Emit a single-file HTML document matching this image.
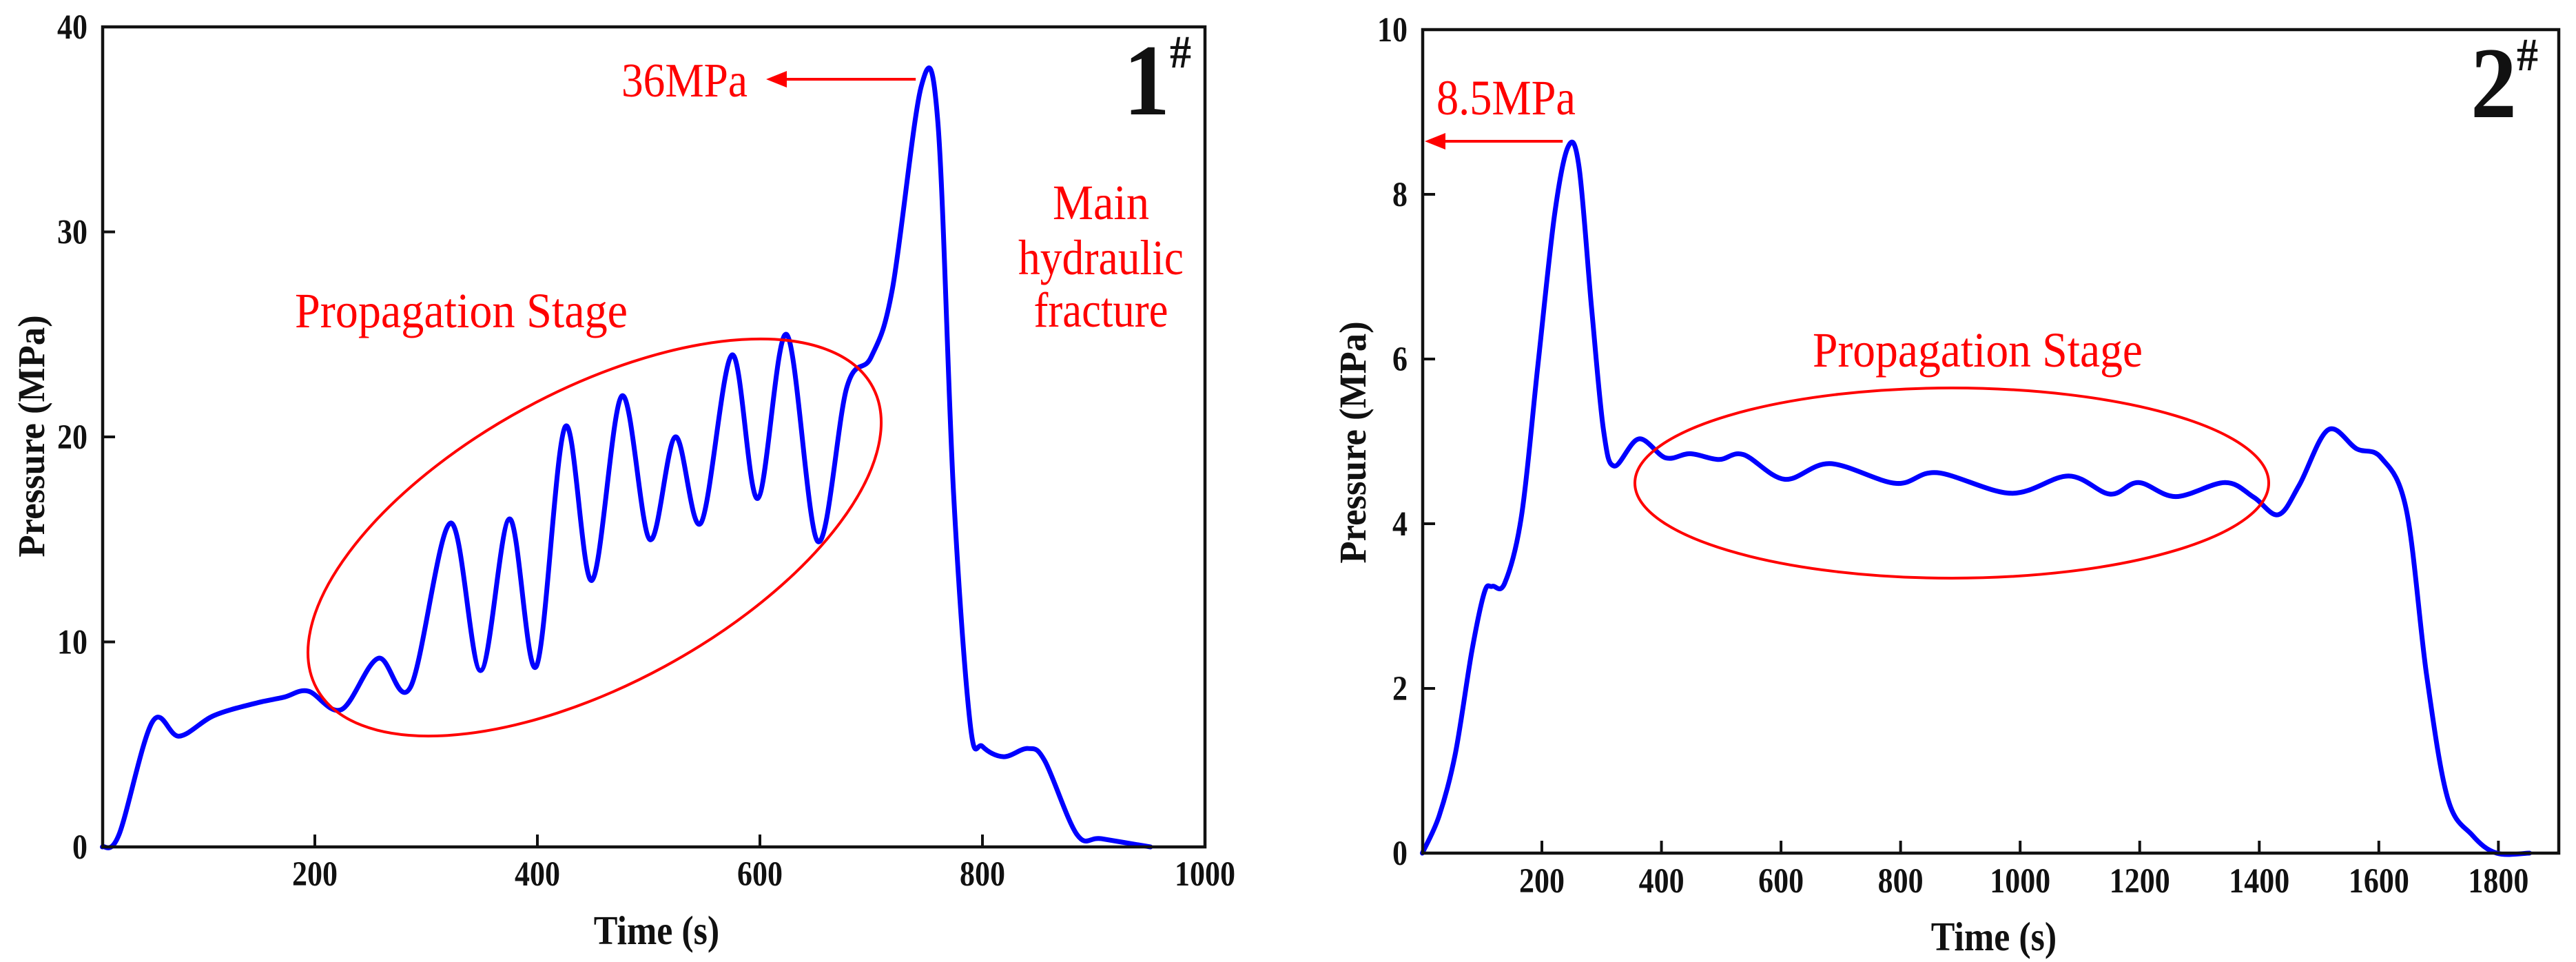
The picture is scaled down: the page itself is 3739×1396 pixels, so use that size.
<!DOCTYPE html>
<html><head><meta charset="utf-8"><style>
html,body{margin:0;padding:0;background:#fff;}
svg{display:block;}
text{font-family:"Liberation Serif",serif;}
</style></head>
<body>
<svg id="fig" width="3739" height="1396" viewBox="0 0 3739 1396" xmlns="http://www.w3.org/2000/svg"></svg>
<script>
// ---- Chart 1 data ----
const c1Times = [9,24,54,78,109,146,172,194,224,257,286,322,349,375,399,425,449,476,501,524,547,575,598,624,652,678,700,719,745,760,774,789,800,819,841,856,885,907,951];
const c1Pressure = [0,0.6,6.1,5.4,6.4,7.0,7.3,7.6,6.7,9.2,7.8,15.8,8.6,16.0,8.8,20.5,13.0,22.0,15.0,20.0,15.8,24.0,17.0,25.0,14.9,22.4,23.9,27.2,37.1,35.3,17.3,6.0,4.9,4.4,4.8,4.2,0.6,0.4,0];
const c1XTicks = [200,400,600,800,1000];
const c1YTicks = [0,10,20,30,40];
// ---- Chart 2 data ----
const c2Times = [0,28,55,83,104,117,138,166,193,221,244,262,283,303,321,362,407,448,496,537,606,682,792,861,985,1081,1150,1198,1260,1343,1391,1432,1467,1515,1563,1604,1646,1680,1715,1756,1797,1852];
const c2Pressure = [0,0.45,1.2,2.46,3.17,3.24,3.28,4.1,5.9,7.74,8.58,8.34,6.63,5.14,4.7,5.03,4.8,4.85,4.78,4.84,4.54,4.73,4.49,4.62,4.37,4.58,4.36,4.5,4.33,4.5,4.32,4.11,4.47,5.14,4.91,4.8,4.17,2.16,0.67,0.22,0,0];
const c2XTicks = [200,400,600,800,1000,1200,1400,1600,1800];
const c2YTicks = [0,2,4,6,8,10];

const NS = "http://www.w3.org/2000/svg";
const svg = document.getElementById('fig');
function mk(tag, attrs, parent){
  const e = document.createElementNS(NS, tag);
  for (const k in attrs) e.setAttribute(k, attrs[k]);
  (parent||svg).appendChild(e);
  return e;
}
function catmull(pts){
  let d = `M${pts[0][0]},${pts[0][1]}`;
  for (let i=0;i<pts.length-1;i++){
    const p0=pts[Math.max(0,i-1)], p1=pts[i], p2=pts[i+1], p3=pts[Math.min(pts.length-1,i+2)];
    const c1x=p1[0]+(p2[0]-p0[0])/6, c1y=p1[1]+(p2[1]-p0[1])/6;
    const c2x=p2[0]-(p3[0]-p1[0])/6, c2y=p2[1]-(p3[1]-p1[1])/6;
    d += ` C${c1x.toFixed(1)},${c1y.toFixed(1)} ${c2x.toFixed(1)},${c2y.toFixed(1)} ${p2[0].toFixed(1)},${p2[1].toFixed(1)}`;
  }
  return d;
}
function chart(cfg){
  const g = mk('g', {});
  
  
  const xs = v => cfg.L + (v - cfg.xmin) / (cfg.xmax - cfg.xmin) * (cfg.R - cfg.L);
  const ys = v => cfg.B - (v - cfg.ymin) / (cfg.ymax - cfg.ymin) * (cfg.B - cfg.T);
  cfg.xTicks.forEach(t => {
    const x = xs(t);
    if (x < cfg.R - 2) {
      const tk = mk('line', {x1:x, y1:cfg.B, x2:x, y2:cfg.B-18, stroke:'#111', 'stroke-width':4}, g);
      
      
    }
    const lb = mk('text', {x:0, y:0, 'font-size':44, 'font-weight':'bold', 'text-anchor':'middle', fill:'#111', transform:`translate(${x},${cfg.xLabelY}) scale(1,1.15)`}, g);
    lb.textContent = t;
    
    
  });
  cfg.yTicks.forEach(t => {
    const y = ys(t);
    if (y > cfg.T + 2 && y < cfg.B - 2) {
      const tk = mk('line', {x1:cfg.L, y1:y, x2:cfg.L+18, y2:y, stroke:'#111', 'stroke-width':4}, g);
      
      
    }
    const lb = mk('text', {x:0, y:0, 'font-size':44, 'font-weight':'bold', 'text-anchor':'end', fill:'#111', transform:`translate(${cfg.yLabelX},${y+17}) scale(1,1.15)`}, g);
    lb.textContent = t;
    
    
  });
  const pts = cfg.times.map((t,i) => [xs(t), ys(cfg.vals[i])]);
  const path = mk('path', {d:catmull(pts), fill:'none', stroke:'#0000ff', 'stroke-width':7, 'stroke-linejoin':'round', 'stroke-linecap':'round'}, g);
  
  
  const fr = mk('rect', {x:cfg.L, y:cfg.T, width:cfg.R-cfg.L, height:cfg.B-cfg.T, fill:'none', stroke:'#111', 'stroke-width':4.5}, g);
  
  
  const xt = mk('text', {x:0, y:0, 'font-size':52, 'font-weight':'bold', 'text-anchor':'middle', fill:'#111', transform:`translate(${cfg.xTitle[0]},${cfg.xTitle[1]}) scale(1,1.15)`}, g);
  xt.textContent = 'Time (s)';
  
  
  const yt = mk('text', {x:0, y:0, 'font-size':48, 'font-weight':'bold', 'text-anchor':'middle', fill:'#111', transform:`translate(${cfg.yTitle[0]},${cfg.yTitle[1]}) rotate(-90) scale(1.1,1.15)`}, g);
  yt.textContent = 'Pressure (MPa)';
  
  
  return {g, xs, ys};
}

const ch1 = chart({name:'chart-1', L:149, R:1749, T:39, B:1229, xmin:9.3, xmax:1000, ymin:0, ymax:40,
  times:c1Times, vals:c1Pressure, xTicks:c1XTicks, yTicks:c1YTicks, xLabelY:1285, yLabelX:127,
  xTitle:[953,1370], yTitle:[64,633]});
const ch2 = chart({name:'chart-2', L:2065, R:3714, T:43, B:1238, xmin:0.6, xmax:1901, ymin:0, ymax:10,
  times:c2Times, vals:c2Pressure, xTicks:c2XTicks, yTicks:c2YTicks, xLabelY:1295, yLabelX:2043,
  xTitle:[2894,1379], yTitle:[1982,642]});

function txt(s, attrs, name, parent){
  const t = mk('text', attrs, parent);
  t.textContent = s;
  
  
  return t;
}
function arrow(x1, y, x2, name){
  const g = mk('g', {});
  
  
  mk('line', {x1:x1, y1:y, x2:x2+22, y2:y, stroke:'#ff0000', 'stroke-width':4}, g);
  mk('polygon', {points:`${x2},${y} ${x2+30},${y-12} ${x2+30},${y+12}`, fill:'#ff0000'}, g);
}
const pk1 = Math.max(...c1Pressure);
const pk1x = ch1.xs(c1Times[c1Pressure.indexOf(pk1)]);
arrow(pk1x-8, 115, 1112, 'peak-arrow-1');
txt('36MPa', {x:902, y:140, 'font-size':70, fill:'#ff0000', textLength:183, lengthAdjust:'spacingAndGlyphs'}, 'peak-label-1');
const lab1 = mk('text', {x:1631, y:166, 'font-size':134, 'font-weight':'bold', fill:'#111', transform:'translate(1631,166) scale(1,1.1) translate(-1631,-166)'});


lab1.innerHTML = '1<tspan font-size="62" dy="-62">#</tspan>';
txt('Main', {x:1598, y:318, 'font-size':72, 'text-anchor':'middle', fill:'#ff0000', textLength:140, lengthAdjust:'spacingAndGlyphs'}, 'main-fracture-label');
txt('hydraulic', {x:1598, y:398, 'font-size':72, 'text-anchor':'middle', fill:'#ff0000', textLength:240, lengthAdjust:'spacingAndGlyphs'}, 'main-fracture-label');
txt('fracture', {x:1598, y:474, 'font-size':72, 'text-anchor':'middle', fill:'#ff0000', textLength:195, lengthAdjust:'spacingAndGlyphs'}, 'main-fracture-label');
txt('Propagation  Stage', {x:428, y:475, 'font-size':72, fill:'#ff0000', textLength:483, lengthAdjust:'spacingAndGlyphs', 'xml:space':'preserve'}, 'propagation-stage-label-1');
const el1 = mk('ellipse', {cx:863, cy:780, rx:459, ry:213, fill:'none', stroke:'#ff0000', 'stroke-width':4, transform:'rotate(-28.5 863 780)'});



const pk2 = Math.max(...c2Pressure);
const pk2x = ch2.xs(c2Times[c2Pressure.indexOf(pk2)]);
arrow(pk2x-8, 205, 2068, 'peak-arrow-2');
txt('8.5MPa', {x:2085, y:166, 'font-size':72, fill:'#ff0000', textLength:202, lengthAdjust:'spacingAndGlyphs'}, 'peak-label-2');
const lab2 = mk('text', {x:3586, y:170, 'font-size':134, 'font-weight':'bold', fill:'#111', transform:'translate(3586,170) scale(1,1.1) translate(-3586,-170)'});


lab2.innerHTML = '2<tspan font-size="62" dy="-62">#</tspan>';
txt('Propagation  Stage', {x:2631, y:532, 'font-size':72, fill:'#ff0000', textLength:479, lengthAdjust:'spacingAndGlyphs', 'xml:space':'preserve'}, 'propagation-stage-label-2');
const el2 = mk('ellipse', {cx:2833, cy:701, rx:460, ry:138, fill:'none', stroke:'#ff0000', 'stroke-width':4});


</script>
</body></html>
